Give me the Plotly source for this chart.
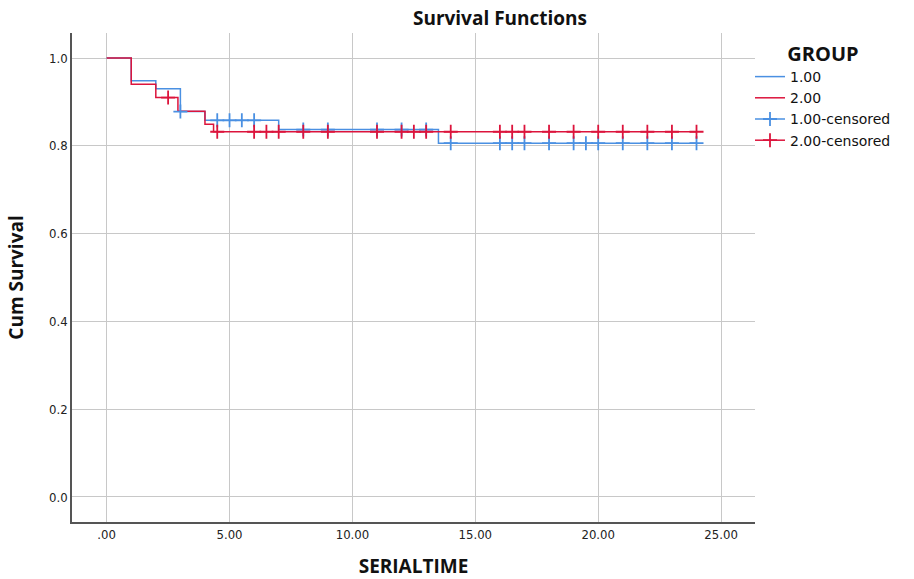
import plotly.graph_objects as go

# Survival step curves (time, cumulative survival)
g1_time = [0, 1.0, 2.0, 3.0, 4.0, 7.0, 13.5, 24.0]
g1_surv = [1.0, 0.948, 0.930, 0.878, 0.858, 0.837, 0.806, 0.806]
g2_time = [0, 1.0, 2.0, 2.9, 4.0, 4.35, 24.0]
g2_surv = [1.0, 0.940, 0.910, 0.879, 0.849, 0.832, 0.832]

# Censored observation times
g1_cens = [3.0, 4.5, 5.0, 5.5, 6.0, 8.0, 9.0, 11.0, 12.0, 13.0, 14.0, 16.0, 16.5,
           17.0, 18.0, 19.0, 19.5, 20.0, 21.0, 22.0, 23.0, 24.0]
g2_cens = [2.5, 4.5, 6.0, 6.5, 7.0, 8.0, 9.0, 11.0, 12.0, 12.5, 13.0, 14.0, 16.0,
           16.5, 17.0, 18.0, 19.0, 20.0, 21.0, 22.0, 23.0, 24.0]

x_ticks = [0, 5, 10, 15, 20, 25]
x_ticktext = [".00", "5.00", "10.00", "15.00", "20.00", "25.00"]
y_ticks = [0.0, 0.2, 0.4, 0.6, 0.8, 1.0]
y_ticktext = ["0.0", "0.2", "0.4", "0.6", "0.8", "1.0"]

BLUE = "#4a90e2"
RED = "#dc143c"


def surv_at(times, survs, t):
    s = survs[0]
    for ti, si in zip(times, survs):
        if ti <= t:
            s = si
    return s


def gapped(xs, ys):
    gx, gy = [], []
    for a, b in zip(xs, ys):
        gx += [a, None]
        gy += [b, None]
    return gx, gy


fig = go.Figure()
fig.add_trace(go.Scatter(x=g1_time, y=g1_surv, mode="lines", line_shape="hv",
                         line=dict(color=BLUE, width=1.5), name="1.00"))
fig.add_trace(go.Scatter(x=g2_time, y=g2_surv, mode="lines", line_shape="hv",
                         line=dict(color=RED, width=1.5), name="2.00"))

c1x, c1y = gapped(g1_cens, [surv_at(g1_time, g1_surv, t) for t in g1_cens])
c2x, c2y = gapped(g2_cens, [surv_at(g2_time, g2_surv, t) for t in g2_cens])
fig.add_trace(go.Scatter(x=c1x, y=c1y, mode="lines+markers", connectgaps=False,
                         line=dict(color=BLUE, width=1.5),
                         marker=dict(symbol="cross-thin", size=10,
                                     line=dict(color=BLUE, width=1.8)),
                         name="1.00-censored"))
fig.add_trace(go.Scatter(x=c2x, y=c2y, mode="lines+markers", connectgaps=False,
                         line=dict(color=RED, width=1.5),
                         marker=dict(symbol="cross-thin", size=10,
                                     line=dict(color=RED, width=1.8)),
                         name="2.00-censored"))

tick_font = dict(family="Liberation Sans Narrow, DejaVu Sans Condensed, Roboto", size=13, color="#222")

fig.update_layout(
    width=914, height=579,
    margin=dict(l=72, r=159, t=33, b=57, autoexpand=False),
    plot_bgcolor="white", paper_bgcolor="white",
    title=dict(text="<b>Survival Functions</b>", x=500 / 914, xanchor="center",
               y=1 - 18 / 579, yanchor="middle", yref="container", xref="container",
               font=dict(family="Open Sans", size=19, color="#111")),
    xaxis=dict(range=[-1.41, 26.38], tickvals=x_ticks, ticktext=x_ticktext,
               showgrid=True, gridcolor="#c8c8c8", gridwidth=1,
               showline=True, linecolor="#555", linewidth=1.5, zeroline=False,
               ticks="", tickfont=tick_font, automargin=False,
               title=dict(text="<b>SERIALTIME</b>", standoff=21,
                          font=dict(family="Open Sans", size=19, color="#111"))),
    yaxis=dict(range=[-0.057, 1.057], tickvals=y_ticks, ticktext=y_ticktext,
               showgrid=True, gridcolor="#c8c8c8", gridwidth=1,
               showline=True, linecolor="#555", linewidth=1.5, zeroline=False,
               ticks="", tickfont=tick_font, automargin=False,
               title=dict(text="<b>Cum Survival</b>", standoff=20,
                          font=dict(family="Open Sans", size=19, color="#111"))),
    legend=dict(x=1 - 5 / 683, xanchor="left", y=1 - (35 - 33) / 489, yanchor="top",
                title=dict(text="<b>GROUP</b>", side="top center",
                           font=dict(family="Open Sans", size=20, color="#111")),
                font=dict(family="DejaVu Sans", size=14, color="#111"),
                itemwidth=30, tracegroupgap=0, bgcolor="rgba(0,0,0,0)"),
    showlegend=True,
)

fig.write_html("out.html", config={"displayModeBar": False},
               post_script="document.body.style.margin='0';")
